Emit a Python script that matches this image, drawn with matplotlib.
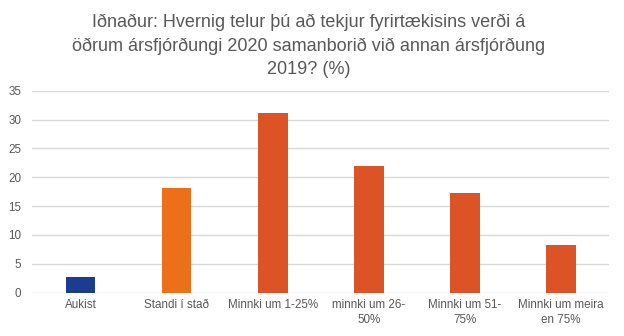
import matplotlib
matplotlib.use('Agg')
import matplotlib.pyplot as plt
import numpy as np

plt.rcParams['font.family'] = ['Liberation Sans', 'DejaVu Sans']

# Data
categories = ['Aukist', 'Standi í stað', 'Minnki um 1-25%', 'minnki um 26-\n50%',
              'Minnki um 51-\n75%', 'Minnki um meira\nen 75%']
values = [2.8, 18.2, 31.1, 22.0, 17.3, 8.3]
bar_colors = ['#1B3D8F', '#EB7019', '#DC5326', '#DC5326', '#DC5326', '#DC5326']
yticks = [0, 5, 10, 15, 20, 25, 30, 35]

title = ('Iðnaður: Hvernig telur þú að tekjur fyrirtækisins verði á\n'
         'öðrum ársfjórðungi 2020 samanborið við annan ársfjórðung\n'
         '2019? (%)')

fig = plt.figure(figsize=(6.24, 3.36), dpi=100)
ax = fig.add_axes([0.052, 0.129, 0.924, 0.601])

x = np.arange(len(categories))
ax.bar(x, values, width=0.31, color=bar_colors, zorder=3)

ax.set_xlim(-0.5, len(categories) - 0.5)
ax.set_ylim(0, 35)
ax.set_yticks(yticks)
ax.set_xticks(x)
ax.set_xticklabels(categories, fontsize=8.4, color='#595959', linespacing=1.3)
ax.tick_params(axis='y', labelsize=8.4, labelcolor='#595959', length=0, pad=8)
ax.tick_params(axis='x', length=0, pad=4.5)

ax.grid(axis='y', color='#D9D9D9', linewidth=1, zorder=0)
for s in ax.spines.values():
    s.set_visible(False)

fig.text(0.494, 0.958, title, ha='center', va='top', fontsize=13.0,
         color='#595959', linespacing=1.48)

fig.savefig('out.png', dpi=100)
